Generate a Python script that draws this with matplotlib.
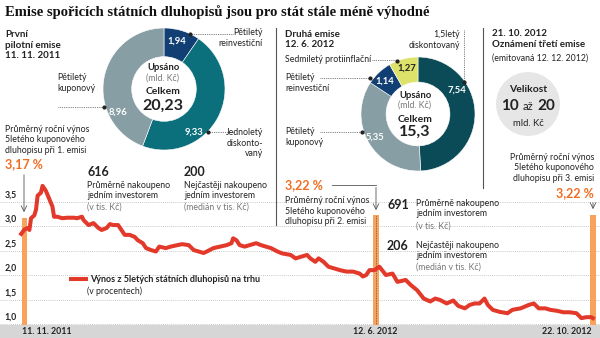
import pandas as pd
from datetime import datetime, timedelta
from matplotlib import pyplot as plt
from matplotlib.patches import Rectangle, Circle

plt.rcParams['font.family'] = ['Lato', 'DejaVu Sans']

# yield of 5y government bonds on the market (days after 11. 11. 2011, %)
days = [-2, 0, 2, 3, 4, 6, 7, 8, 10, 11, 13, 15, 17, 18, 20, 23, 26, 30, 32, 35,
        36, 39, 42, 45, 47, 50, 52, 54, 57, 59, 61, 64, 67, 69, 72, 74, 77, 80, 82, 86,
        89, 93, 96, 100, 103, 106, 109, 111, 115, 119, 123, 126, 127, 129, 131, 134,
        137, 141, 144, 147, 150, 154, 157, 162, 165, 168, 172, 174, 177, 179, 182, 185,
        188, 192, 196, 200, 204, 206, 208, 210, 213, 216, 220, 224, 227, 232, 235, 239,
        243, 247, 250, 253, 257, 261, 264, 268, 271, 274, 277, 280, 282, 285, 289, 294,
        297, 302, 307, 310, 313, 317, 320, 324, 328, 332, 336, 339, 342, 345, 346]
yields = [2.84, 2.93, 2.96, 2.92, 3.16, 3.22, 3.33, 3.62, 3.68, 3.82, 3.72, 3.56, 3.40,
          3.19, 3.19, 3.16, 3.17, 3.17, 3.16, 3.19, 3.12, 3.02, 3.06, 2.96, 2.92, 2.96,
          3.04, 3.02, 3.02, 2.92, 2.82, 2.82, 2.78, 2.71, 2.65, 2.55, 2.51, 2.48, 2.58,
          2.55, 2.58, 2.61, 2.63, 2.61, 2.51, 2.48, 2.45, 2.48, 2.55, 2.58, 2.61, 2.65,
          2.75, 2.71, 2.61, 2.58, 2.61, 2.65, 2.61, 2.58, 2.55, 2.48, 2.44, 2.41, 2.34,
          2.37, 2.41, 2.34, 2.27, 2.34, 2.27, 2.17, 2.14, 2.10, 2.07, 2.07, 2.03, 1.97,
          2.00, 2.10, 2.10, 2.17, 2.00, 2.03, 1.86, 1.90, 1.80, 1.69, 1.52, 1.46, 1.52,
          1.49, 1.42, 1.48, 1.37, 1.32, 1.39, 1.42, 1.42, 1.52, 1.39, 1.29, 1.25, 1.22,
          1.29, 1.32, 1.39, 1.42, 1.32, 1.32, 1.29, 1.27, 1.24, 1.24, 1.22, 1.12, 1.14,
          1.14, 1.12]

# issues: date and average yield of 5y coupon bond
issue_dates = ['2011-11-11', '2012-06-12', '2012-10-22']
issue_yields = [3.17, 3.22, 3.22]
date_labels = ['11. 11. 2011', '12. 6. 2012', '22. 10. 2012']
yticks = [1.0, 1.5, 2.0, 2.5, 3.0, 3.5]

# first issue (bn CZK)
pie1_vals = [1.94, 9.33, 8.96]
pie1_labels = ['1,94', '9,33', '8,96']
pie1_colors = ['#123f73', '#0b6f7c', '#879ea4']
# second issue (bn CZK)
pie2_vals = [7.54, 5.35, 1.14, 1.27]
pie2_labels = ['7,54', '5,35', '1,14', '1,27']
pie2_colors = ['#0b4b57', '#879ea4', '#123f73', '#dde26a']

RED = '#e2392b'
ORANGE = '#f26d21'
BAR = '#f8a25c'
DARK = '#222222'
GREY = '#777777'

start = datetime(2011, 11, 11)
dates = [start + timedelta(days=d) for d in days]
idates = pd.to_datetime(issue_dates)

fig = plt.figure(figsize=(6, 3.38), dpi=100)
W, H = 600, 338


def box(x, y, w, h):
    return [x / W, 1 - (y + h) / H, w / W, h / H]


# main line chart
ax = fig.add_axes(box(0, 180, 600, 145))
ax.patch.set_alpha(0)
ax.set_xlim(start - timedelta(days=14.9), start + timedelta(days=350.3))
ax.set_ylim(0.98, 3.94)
ax.axis('off')
ax.hlines(yticks, *ax.get_xlim(), colors='#b5b5b5', lw=0.6, linestyles=(0, (1, 1.5)), zorder=1)
for v in yticks:
    ax.text(start - timedelta(days=12), v + 0.04, ('%.1f' % v).replace('.', ','),
            fontsize=6.3, fontweight='bold', color=DARK, va='bottom', ha='left')
ax.bar(idates, [v - 0.98 for v in issue_yields], bottom=0.98, width=3.6,
       color=BAR, zorder=2)
ax.vlines(idates[1], 0.98, issue_yields[1], colors='#555555', lw=0.6,
          linestyles=(0, (1, 1)), zorder=3)
ax.plot(dates, yields, color=RED, lw=2.9, solid_joinstyle='round', zorder=4,
        label='Výnos z 5letých státních dluhopisů na trhu')
leg = ax.legend(loc='center left', bbox_to_anchor=(66 / W, 1 - 280 / H),
                bbox_transform=fig.transFigure, frameon=False, borderpad=0,
                handlelength=1.7, handletextpad=0.45, prop={'size': 6.5, 'weight': 'bold'})
for txt in leg.get_texts():
    txt.set_color(DARK)

# donut 1
ap1 = fig.add_axes(box(103, 28, 122, 122))
ap1.pie(pie1_vals, colors=pie1_colors, startangle=90, counterclock=False,
        wedgeprops=dict(width=0.47, edgecolor='white', linewidth=0.4))
ap1.set_xlim(-1, 1)
ap1.set_ylim(-1, 1)

# donut 2
ap2 = fig.add_axes(box(361, 57, 114, 114))
ap2.pie(pie2_vals, colors=pie2_colors, startangle=90, counterclock=False,
        wedgeprops=dict(width=0.44, edgecolor='white', linewidth=0.4))
ap2.set_xlim(-1, 1)
ap2.set_ylim(-1, 1)

# overlay in pixel coordinates
ov = fig.add_axes([0, 0, 1, 1])
ov.set_xlim(0, W)
ov.set_ylim(H, 0)
ov.axis('off')
ov.patch.set_alpha(0)


def t(x, y, s, size=6.3, weight='normal', color=DARK, ha='left', va='center', **kw):
    ov.text(x, y, s, fontsize=size, fontweight=weight, color=color, ha=ha, va=va,
            linespacing=1.25, **kw)


def lead(xs, ys, dot=None):
    ov.plot(xs, ys, color='#555555', lw=0.6, linestyle=(0, (1, 1.2)))
    if dot:
        ov.plot(*dot, 'o', color=DARK, ms=2)


# bottom date band
ov.add_patch(Rectangle((0, 325), W, 13, color='#d6d6d6', lw=0))
t(22, 331.5, date_labels[0], size=6.3, weight='bold')
t(375, 331.5, date_labels[1], size=6.3, weight='bold', ha='center')
t(592, 331.5, date_labels[2], size=6.3, weight='bold', ha='right')

# title
ov.text(5, 12, 'Emise spořicích státních dluhopisů jsou pro stát stále méně výhodné',
        fontsize=10.5, fontweight='bold', family='Liberation Serif', color='#111111',
        va='center', ha='left')

# separators
ov.plot([276, 276], [28, 225], color='#555555', lw=0.8)
ov.plot([483, 483], [28, 188], color='#555555', lw=0.8)

# first issue block
t(5, 45, 'První\npilotní emise\n11. 11. 2011', size=7, weight='bold')
t(57, 83, 'Pětiletý\nkuponový')
lead([58, 104], [107, 107], (104, 107))
t(263, 38, 'Pětiletý\nreinvestiční', ha='right', multialignment='right')
lead([190, 233], [34, 34], (190, 34))
t(263, 143, 'Jednoletý\ndiskonto-\nvaný', ha='right', multialignment='right')
lead([208, 235], [132, 132], (208, 132))
for s, x, y in zip(pie1_labels, [177, 194, 118], [41, 132, 112]):
    t(x, y, s, size=6.8, weight='bold', color='white', ha='center')
t(163, 68, 'Upsáno', size=6.8, weight='bold', ha='center')
t(163, 78.5, '(mld. Kč)', size=6.3, color=GREY, ha='center')
t(163, 92, 'Celkem', size=7.5, weight='bold', ha='center')
t(163, 106, '20,23', size=11.5, weight='bold', ha='center')

t(5, 140, 'Průměrný roční výnos\n5letého kuponového\ndluhopisu při 1. emisi')
t(5, 164, '3,17 %', size=9, weight='bold', color=ORANGE)
ov.annotate('', xy=(24, 215), xytext=(24, 172),
            arrowprops=dict(arrowstyle='->', color='#555555', lw=0.6))

t(87, 172, '616', size=9, weight='bold')
t(87, 190.5, 'Průměrně nakoupeno\njedním investorem')
t(87, 207, '(v tis. Kč)', color=GREY)
t(184, 172, '200', size=9, weight='bold')
t(184, 190.5, 'Nejčastěji nakoupeno\njedním investorem')
t(184, 207, '(medián v tis. Kč)', color=GREY)

# second issue block
t(285, 39.5, 'Druhá emise\n12. 6. 2012', size=7, weight='bold')
t(460, 40, '1,5letý\ndiskontovaný', ha='right', multialignment='right')
lead([464, 464], [30, 82], (464, 82))
t(285, 60, 'Sedmiletý protiinflační')
lead([372, 397], [60, 60], (397, 61))
t(285, 83, 'Pětiletý\nreinvestiční')
lead([320, 370], [78, 78], (370, 78))
t(285, 137, 'Pětiletý\nkuponový')
lead([320, 362], [132, 132], (362, 132))
for s, x, y, c in zip(pie2_labels, [457, 375, 385, 407], [90, 137, 81, 68],
                      ['white', 'white', 'white', DARK]):
    t(x, y, s, size=6.8, weight='bold', color=c, ha='center')
t(415, 96, 'Upsáno', size=6.8, weight='bold', ha='center')
t(415, 105.5, '(mld. Kč)', size=6.3, color=GREY, ha='center')
t(415, 119, 'Celkem', size=7.5, weight='bold', ha='center')
t(415, 132, '15,3', size=11.5, weight='bold', ha='center')

t(285, 185, '3,22 %', size=9, weight='bold', color=ORANGE)
ov.plot([332, 376], [185, 185], color='#555555', lw=0.6)
ov.annotate('', xy=(376, 213), xytext=(376, 184.7),
            arrowprops=dict(arrowstyle='->', color='#555555', lw=0.6))
t(285, 211, 'Průměrný roční výnos\n5letého kuponového\ndluhopisu při 2. emisi')

t(387, 205, '691', size=9, weight='bold')
t(416, 208.5, 'Průměrně nakoupeno\njedním investorem')
t(416, 226, '(v tis. Kč)', color=GREY)
t(387, 246, '206', size=9, weight='bold')
t(416, 250.5, 'Nejčastěji nakoupeno\njedním investorem')
t(416, 267.5, '(medián v tis. Kč)', color=GREY)

# third issue block
t(492, 39, '21. 10. 2012\nOznámení třetí emise', size=7, weight='bold')
t(492, 58, '(emitovaná 12. 12. 2012)')
ov.add_patch(Circle((528, 104), 32, color='#e6e6e6', lw=0))
t(528, 90, 'Velikost', size=7.5, weight='bold', ha='center')
t(510, 106, '10', size=11, weight='bold', ha='center')
t(528, 106, 'až', size=8, ha='center')
t(546, 106, '20', size=11, weight='bold', ha='center')
t(528, 123, 'mld. Kč', size=6.8, ha='center')
t(594, 168, 'Průměrný roční výnos\n5letého kuponového\ndluhopisu při 3. emisi', ha='right',
  multialignment='right')
t(594, 193, '3,22 %', size=9, weight='bold', color=ORANGE, ha='right')
ov.annotate('', xy=(593, 212), xytext=(593, 200),
            arrowprops=dict(arrowstyle='->', color='#555555', lw=0.6))

t(87, 291, '(v procentech)')

fig.savefig('out.png', dpi=100)
